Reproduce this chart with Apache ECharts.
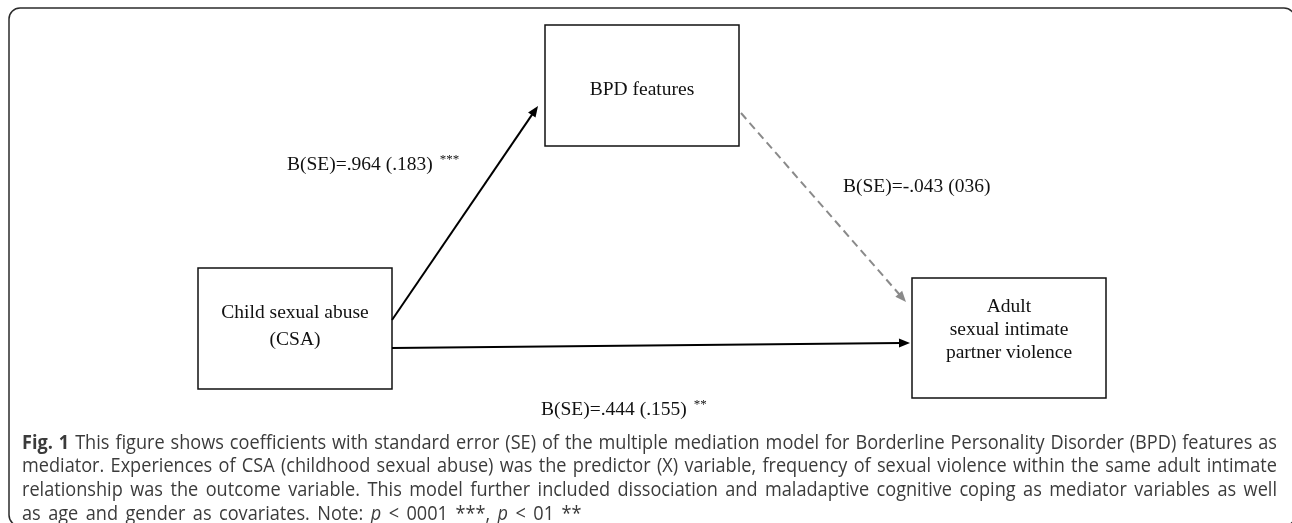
<!DOCTYPE html>
<html><head><meta charset="utf-8">
<script src="https://cdn.jsdelivr.net/npm/echarts@6/dist/echarts.min.js"></script>
<style>html,body{margin:0;padding:0;background:#fff}#c{width:1292px;height:523px}</style>
</head><body><div id="c"></div>
<script>
// ---- content ----
const nodeNames = ['BPD features', 'Child sexual abuse\n(CSA)', 'Adult\nsexual intimate\npartner violence'];
const pathLabels = ['B(SE)=.964 (.183)', 'B(SE)=-.043 (036)', 'B(SE)=.444 (.155)'];
const pathStars = ['***', '', '**'];
const pathSignificant = [true, false, true];
const captionLines = [
  'Fig. 1 This figure shows coefficients with standard error (SE) of the multiple mediation model for Borderline Personality Disorder (BPD) features as',
  'mediator. Experiences of CSA (childhood sexual abuse) was the predictor (X) variable, frequency of sexual violence within the same adult intimate',
  'relationship was the outcome variable. This model further included dissociation and maladaptive cognitive coping as mediator variables as well',
  'as age and gender as covariates. Note: p < 0001 ***, p < 01 **'
];

// ---- layout (diagram space, px) ----
const boxRect = [[545, 25, 194, 121], [198, 268, 194, 121], [912, 278, 194, 120]];
const boxTextY = [[90], [313, 340], [307, 330, 353]];
const arrowStart = [[392, 320], [741, 113], [392, 348]];
const arrowEnd = [[538, 106], [906, 302], [910, 343]];
const labelPos = [[287, 165], [843, 187], [541, 410]];

const SERIF = '"Liberation Serif", "Times New Roman", serif';
const SANS = '"Open Sans", "Noto Sans", sans-serif';
const chart = echarts.init(document.getElementById('c'), null, {renderer: 'canvas'});

const ctx = document.createElement('canvas').getContext('2d');
function measure(t, font) { ctx.font = font; return ctx.measureText(t).width; }

// caption layout (justified lines, slightly condensed)
const capFs = 19.5, capSX = 0.93, capLeft = 22, capRight = 1277, capY0 = 443, capLH = 23.7;
const capGraphics = [];
let lastGap = 6;
captionLines.forEach((line, li) => {
  const words = line.split(' ');
  const toks = words.map((w, wi) => {
    let weight = 'normal', style = 'normal';
    if (li === 0 && wi < 2) weight = 'bold';
    if (li === 3 && w === 'p') style = 'italic';
    const font = style + ' ' + weight + ' ' + capFs + 'px ' + SANS;
    return {w, weight, style, width: measure(w, font) * capSX};
  });
  const total = toks.reduce((a, t) => a + t.width, 0);
  const justify = li < captionLines.length - 1;
  const gap = justify ? (capRight - capLeft - total) / (toks.length - 1) : lastGap;
  if (justify) lastGap = gap;
  let x = capLeft;
  toks.forEach(t => {
    capGraphics.push({type: 'text', x: x, y: capY0 + li * capLH, scaleX: capSX, silent: true,
      style: {text: t.w, fontFamily: SANS, fontSize: capFs, fontWeight: t.weight, fontStyle: t.style,
        fill: '#3b3b3b', textVerticalAlign: 'middle', textAlign: 'left'}});
    x += t.width + gap;
  });
});

const labelFs = 19.5, starFs = 13;
const option = {
  animation: false,
  backgroundColor: '#fff',
  grid: {left: 0, right: 0, top: 0, bottom: 0},
  xAxis: {type: 'value', min: 0, max: 1292, show: false},
  yAxis: {type: 'value', min: 0, max: 523, inverse: true, show: false},
  graphic: [
    {type: 'rect', shape: {x: 9, y: 8, width: 1286, height: 518, r: 11}, silent: true,
      style: {fill: 'none', stroke: '#2b2b2b', lineWidth: 1.5}}
  ].concat(capGraphics),
  series: [
    { // boxes
      type: 'custom', coordinateSystem: 'cartesian2d', silent: true,
      data: nodeNames.map((n, i) => [i]),
      renderItem: function (params, api) {
        const i = api.value(0);
        const r = boxRect[i];
        const p0 = api.coord([r[0], r[1]]), p1 = api.coord([r[0] + r[2], r[1] + r[3]]);
        const cx = (p0[0] + p1[0]) / 2;
        const children = [{type: 'rect', shape: {x: p0[0], y: p0[1], width: p1[0] - p0[0], height: p1[1] - p0[1]},
          style: {fill: '#fff', stroke: '#111', lineWidth: 1.5}}];
        nodeNames[i].split('\n').forEach((t, k) => {
          const py = api.coord([0, boxTextY[i][k]])[1];
          children.push({type: 'text', x: cx, y: py, style: {text: t, fontFamily: SERIF, fontSize: labelFs,
            fill: '#111', textAlign: 'center', textVerticalAlign: 'middle'}});
        });
        return {type: 'group', children};
      }
    },
    { // arrows
      type: 'custom', coordinateSystem: 'cartesian2d', silent: true,
      data: pathLabels.map((n, i) => [i]),
      renderItem: function (params, api) {
        const i = api.value(0);
        const a = api.coord(arrowStart[i]), b = api.coord(arrowEnd[i]);
        const sig = pathSignificant[i];
        const col = sig ? '#000' : '#8a8a8a';
        const dx = b[0] - a[0], dy = b[1] - a[1], L = Math.hypot(dx, dy);
        const ux = dx / L, uy = dy / L, nx = -uy, ny = ux;
        const hl = 11, hw = 4.5;
        const base = [b[0] - ux * hl, b[1] - uy * hl];
        return {type: 'group', children: [
          {type: 'line', shape: {x1: a[0], y1: a[1], x2: base[0] + ux * 2, y2: base[1] + uy * 2},
            style: {stroke: col, lineWidth: 2, lineDash: sig ? null : [8, 5]}},
          {type: 'polygon', shape: {points: [b, [base[0] + nx * hw, base[1] + ny * hw], [base[0] - nx * hw, base[1] - ny * hw]]},
            style: {fill: col}}
        ]};
      }
    },
    { // path labels
      type: 'custom', coordinateSystem: 'cartesian2d', silent: true,
      data: pathLabels.map((n, i) => [i]),
      renderItem: function (params, api) {
        const i = api.value(0);
        const p = api.coord(labelPos[i]);
        const w = measure(pathLabels[i], labelFs + 'px ' + SERIF);
        const children = [{type: 'text', x: p[0], y: p[1], style: {text: pathLabels[i], fontFamily: SERIF,
          fontSize: labelFs, fill: '#111', textAlign: 'left', textVerticalAlign: 'middle'}}];
        if (pathStars[i]) children.push({type: 'text', x: p[0] + w + 7, y: p[1] - 5, style: {text: pathStars[i],
          fontFamily: SERIF, fontSize: starFs, fill: '#111', textAlign: 'left', textVerticalAlign: 'middle'}});
        return {type: 'group', children};
      }
    }
  ]
};
chart.setOption(option);
</script></body></html>
